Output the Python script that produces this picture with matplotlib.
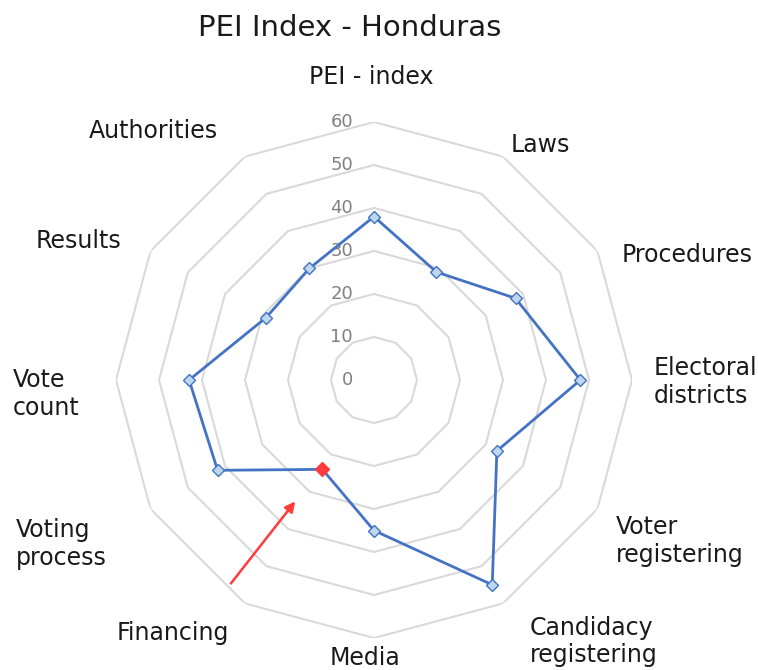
import matplotlib
matplotlib.use("Agg")
import matplotlib.pyplot as plt
import numpy as np

categories = ["PEI - index", "Laws", "Procedures", "Electoral\ndistricts", "Voter\nregistering",
              "Candidacy\nregistering", "Media", "Financing", "Voting\nprocess", "Vote\ncount",
              "Results", "Authorities"]
values = [38, 29, 38, 48, 33, 55, 35, 24, 42, 43, 29, 30]
ring_ticks = [0, 10, 20, 30, 40, 50, 60]
highlight = "Financing"

# label nudges (pixels) from the outer ring vertex, Excel-style placement
label_offsets = [(-3, 45), (8, 12), (24, -4), (22, -2), (18, -32), (27, -38),
                 (-9, -20), (-16, -30), (-44, -35), (-36, -14), (-29, 10), (-27, 26)]

LINE_COLOR = "#4472C4"
MARKER_FILL = "#BDD7EE"
GRID_COLOR = "#D9D9D9"
TEXT_COLOR = "#1a1a1a"
TICK_COLOR = "#808080"
RED = "#FF3B3B"

W, H = 758, 670
fig = plt.figure(figsize=(W / 100, H / 100), dpi=100, facecolor="white")
cx, cy, rad = 374, 380, 258
ax = fig.add_axes([(cx - rad) / W, (H - cy - rad) / H, 2 * rad / W, 2 * rad / H], projection="polar")
ax.set_theta_offset(np.pi / 2)
ax.set_theta_direction(-1)
ax.set_ylim(0, 60)
ax.grid(False)
ax.spines["polar"].set_visible(False)
ax.set_xticks([])
ax.set_yticks([])
ax.patch.set_alpha(0)

n = len(categories)
theta = np.arange(n) * 2 * np.pi / n
theta_closed = np.append(theta, theta[0])

# polygon rings, no spokes
for r in ring_ticks[1:]:
    ax.plot(theta_closed, [r] * (n + 1), color=GRID_COLOR, lw=1.5, zorder=1)

# ring labels along the top axis
for r in ring_ticks:
    ax.annotate(str(r), xy=(0, r), xytext=(-21, 0), textcoords="offset pixels",
                ha="right", va="center", fontsize=13, color=TICK_COLOR, zorder=3)

vals_closed = values + [values[0]]
ax.plot(theta_closed, vals_closed, color=LINE_COLOR, lw=2.0, zorder=4)
ax.plot(theta, values, ls="none", marker="D", ms=6.5, mfc=MARKER_FILL, mec=LINE_COLOR,
        mew=1.0, zorder=5)
hi = categories.index(highlight)
ax.plot([theta[hi]], [values[hi]], ls="none", marker="D", ms=7, mfc=RED, mec=RED, zorder=6)

# category labels
for t, lab, off in zip(theta, categories, label_offsets):
    s = np.sin(t)
    ha = "left" if s > 0.1 else ("right" if s < -0.1 else "center")
    ax.annotate(lab, xy=(t, 60), xytext=off, textcoords="offset pixels",
                ha=ha, va="center", fontsize=17, color=TEXT_COLOR,
                linespacing=1.2, multialignment="left", annotation_clip=False)

# red arrow pointing at the highlighted point
ax.annotate("", xy=(theta[hi] + 0.05, 33), xytext=(theta[hi] + 0.09, 58.5),
            arrowprops=dict(arrowstyle="-|>", color=RED, lw=1.8, mutation_scale=15), zorder=6)

fig.text(350 / W, 1 - 28 / H, "PEI Index - Honduras", ha="center", va="center",
         fontsize=21, color=TEXT_COLOR)

fig.savefig("out.png", dpi=100, facecolor="white")
